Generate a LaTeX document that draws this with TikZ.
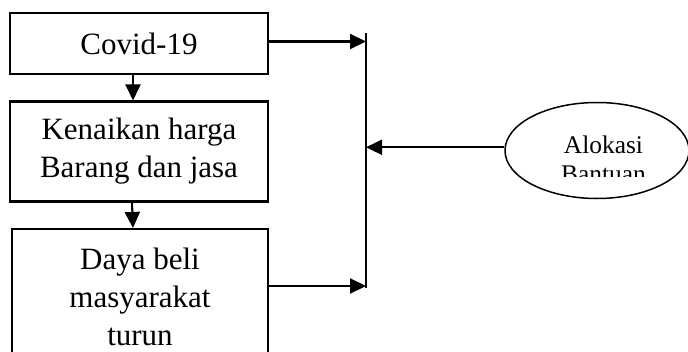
\documentclass[tikz,border=0pt]{standalone}
\usepackage{fontspec}
\setmainfont{Liberation Serif}
\usetikzlibrary{arrows.meta,shapes.geometric}
\tikzset{
  boxnode/.style={draw,line width=2.1pt,align=center,inner sep=0pt,
    font=\fontsize{31}{38}\selectfont},
  arr/.style={line width=2.1pt,-{Triangle[length=16pt,width=15pt]}},
  ellnode/.style={draw,ellipse,line width=1.5pt,minimum width=184pt,minimum height=96pt,inner sep=0pt},
  elltext/.style={align=center,inner sep=0pt,font=\fontsize{25.4}{29.5}\selectfont}
}
\begin{document}
\begin{tikzpicture}[x=1pt,y=-1pt]
\useasboundingbox (0,0) rectangle (688,351);
\clip (0,0) rectangle (688,351);
\fill[white] (0,0) rectangle (688,351);
\node[boxnode,minimum width=258pt,minimum height=61pt] (b1) at (139,43.5) {Covid-19};
\node[boxnode,minimum width=258pt,minimum height=100pt] (b2) at (139,151.5) {Kenaikan harga\\Barang dan jasa};
\node[boxnode,minimum width=256pt,minimum height=135pt] (b3) at (140,296.5) {Daya beli\\masyarakat\\turun};
\node[ellnode] (e) at (597,150.5) {};
\begin{scope}
\clip (520,120) rectangle (680,176);
\node[elltext,anchor=base] (et) at (603.5,182.5) {Alokasi\\Bantuan};
\end{scope}
\coordinate (vtop) at (366,33);
\coordinate (vbot) at (366,288);
\draw[line width=2.1pt] (vtop) -- (vbot);
\draw[arr] ([xshift=-6pt]b1.south) -- ([xshift=-6pt]b2.north);
\draw[arr] ([xshift=-7pt]b2.south) -- ([xshift=-7pt]b3.north);
\draw[arr] ([yshift=2pt]b1.east) -- ([yshift=2pt]b1.east -| vtop);
\draw[arr] ([yshift=10.5pt]b3.east) -- ([yshift=10.5pt]b3.east -| vtop);
\draw[arr] (e.178) -- (e.178 -| vtop);
\end{tikzpicture}
\end{document}
